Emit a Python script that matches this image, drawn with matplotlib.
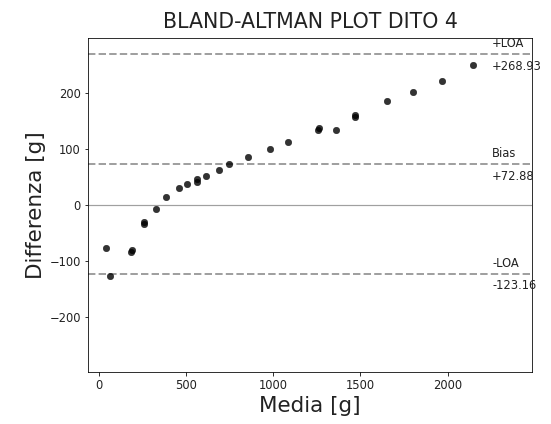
import matplotlib
matplotlib.use("Agg")
import matplotlib.pyplot as plt
import numpy as np

# media e differenza delle misure (dito 4)
media = [40, 61, 186, 182, 259, 259, 324, 385, 456, 506, 563, 563, 613, 690,
         744, 853, 979, 1084, 1255, 1261, 1360, 1470, 1466, 1655, 1803, 1966, 2149]
differenza = [-78, -127, -81, -84, -30, -34, -7, 14, 30, 37, 46, 40, 51, 62,
              73, 86, 99, 113, 133, 137, 134, 161, 157, 186, 202, 221, 250]

bias = 72.88
loa_sup = 268.93
loa_inf = -123.16

fig = plt.figure(figsize=(551 / 72, 424 / 72), dpi=72)
ax = fig.add_axes([88 / 551, 1 - 372 / 424, (532 - 88) / 551, (372 - 38) / 424])

ax.scatter(media, differenza, s=42, color='k', alpha=0.8, linewidths=0.5, zorder=3)
ax.axhline(0, color='#a0a0a0', lw=1.2)
ax.axhline(bias, color='#a0a0a0', ls='--', lw=2)
ax.axhline(loa_sup, color='#a0a0a0', ls='--', lw=2)
ax.axhline(loa_inf, color='#a0a0a0', ls='--', lw=2)

xt = max(media) * 1.05
fs = 11.5
tc = '#222222'
sopra, sotto = 7, 10
ax.text(xt, loa_sup + sopra, '+LOA', va='bottom', fontsize=fs, color=tc)
ax.text(xt, loa_sup - sotto, '+%.2f' % loa_sup, va='top', fontsize=fs, color=tc)
ax.text(xt, bias + sopra, 'Bias', va='bottom', fontsize=fs, color=tc)
ax.text(xt, bias - sotto, '+%.2f' % bias, va='top', fontsize=fs, color=tc)
ax.text(xt, loa_inf + sopra, '-LOA', va='bottom', fontsize=fs, color=tc)
ax.text(xt, loa_inf - sotto, '%.2f' % loa_inf, va='top', fontsize=fs, color=tc)

ax.set_xlim(-65, 2485)
ax.set_ylim(-299, 298)
ax.set_yticks([-200, -100, 0, 100, 200])
ax.set_xticks([0, 500, 1000, 1500, 2000])
ax.tick_params(labelsize=11.5, labelcolor=tc)

ax.set_title('BLAND-ALTMAN PLOT DITO 4', fontsize=20.5, pad=10, color=tc)
ax.set_xlabel('Media [g]', fontsize=21.5, color=tc)
ax.set_ylabel('Differenza [g]', fontsize=21.5, color=tc)

fig.savefig('out.png', dpi=72)
